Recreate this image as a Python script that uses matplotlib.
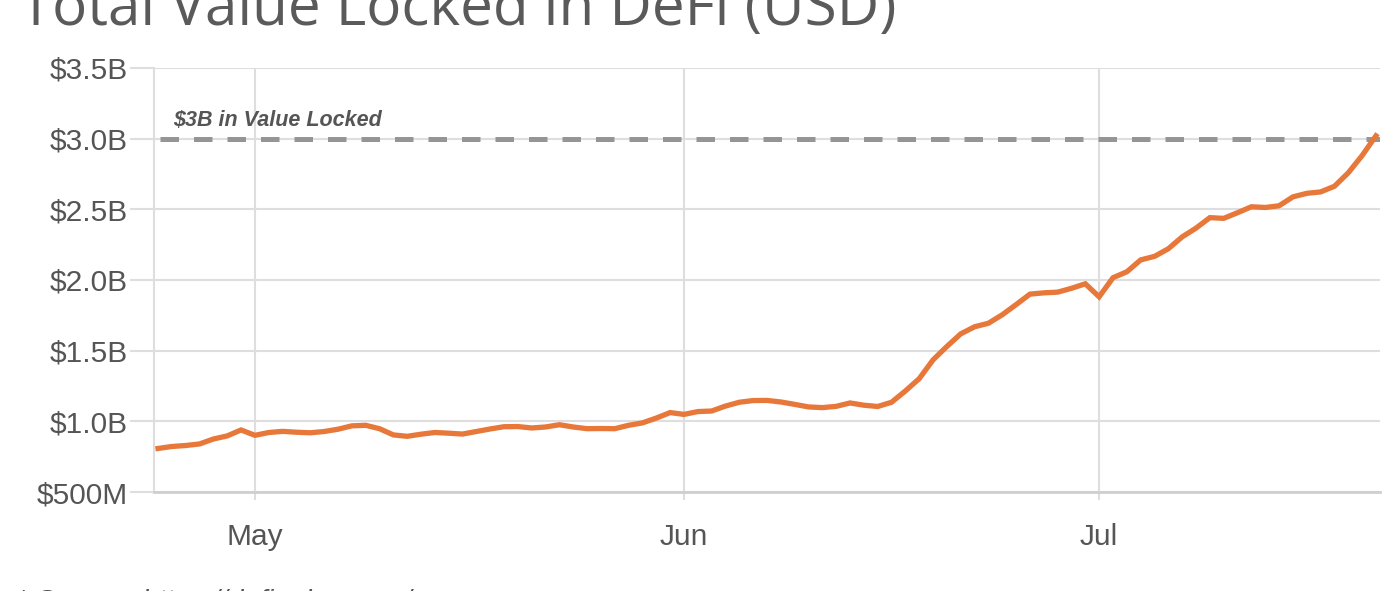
import datetime as dt
import matplotlib
matplotlib.use("Agg")
import matplotlib.pyplot as plt
import matplotlib.dates as mdates
from matplotlib.ticker import FixedLocator

# daily total value locked, billions of USD
start_date = dt.date(2020, 4, 24)
tvl_billions = [
    0.808, 0.822, 0.829, 0.840, 0.875, 0.897, 0.939, 0.901, 0.921, 0.929,
    0.923, 0.919, 0.928, 0.944, 0.968, 0.972, 0.948, 0.904, 0.894, 0.909,
    0.921, 0.916, 0.910, 0.928, 0.946, 0.962, 0.963, 0.953, 0.960, 0.976,
    0.960, 0.948, 0.949, 0.948, 0.972, 0.989, 1.023, 1.062, 1.049, 1.069,
    1.073, 1.108, 1.135, 1.147, 1.148, 1.137, 1.120, 1.102, 1.097, 1.106,
    1.130, 1.114, 1.105, 1.135, 1.215, 1.302, 1.435, 1.530, 1.619, 1.669,
    1.694, 1.754, 1.826, 1.900, 1.909, 1.914, 1.941, 1.973, 1.881, 2.016,
    2.058, 2.142, 2.167, 2.221, 2.305, 2.367, 2.441, 2.436, 2.476, 2.518,
    2.513, 2.525, 2.588, 2.613, 2.623, 2.663, 2.758, 2.880, 3.020,
]
dates = [start_date + dt.timedelta(days=i) for i in range(len(tvl_billions))]

y_ticks = [0.5, 1.0, 1.5, 2.0, 2.5, 3.0, 3.5]
y_labels = ["$500M", "$1.0B", "$1.5B", "$2.0B", "$2.5B", "$3.0B", "$3.5B"]
month_ticks = [dt.date(2020, 5, 1), dt.date(2020, 6, 1), dt.date(2020, 7, 1)]
month_labels = ["May", "Jun", "Jul"]
threshold = 3.0
threshold_label = "$3B in Value Locked"

grid_col = "#dedede"
text_col = "#555555"

fig = plt.figure(figsize=(14, 5.91), dpi=100)
ax = fig.add_axes([0.110, 0.1675, 0.8757, 0.7175])

ax.plot(dates, tvl_billions, color="#E8773A", linewidth=3.8,
        solid_joinstyle="miter", zorder=3)
ax.axhline(threshold, xmin=0.005, xmax=1.0, color="#959595", linewidth=3.6,
           dashes=(3.7, 3.0), zorder=2)
ax.text(dt.datetime(2020, 4, 25, 3), threshold + 0.055, threshold_label,
        fontsize=15.5, fontweight="bold", fontstyle="italic",
        family="Liberation Sans", color=text_col, va="bottom")

ax.set_xlim(dt.datetime(2020, 4, 23, 17), dt.datetime(2020, 7, 21, 7))
ax.set_ylim(0.5, 3.5)

ax.yaxis.set_major_locator(FixedLocator(y_ticks))
ax.set_yticklabels(y_labels)
ax.set_xticks([mdates.date2num(d) for d in month_ticks])
ax.set_xticklabels(month_labels)

ax.grid(True, color=grid_col, linewidth=1.5, zorder=0)
for s in ["top", "right"]:
    ax.spines[s].set_visible(False)
ax.spines["left"].set_color(grid_col)
ax.spines["left"].set_linewidth(1.5)
ax.spines["bottom"].set_color("#cfcfcf")
ax.spines["bottom"].set_linewidth(2)

ax.tick_params(axis="y", length=17, width=1.5, color=grid_col, pad=2,
               labelsize=21.5, labelcolor=text_col)
ax.tick_params(axis="x", length=6, width=1.5, color=grid_col, pad=16,
               labelsize=21.5, labelcolor=text_col)
for lab in ax.get_xticklabels() + ax.get_yticklabels():
    lab.set_family("Liberation Sans")

fig.text(0.014, 0.958, "Total Value Locked in DeFi (USD)", fontsize=42,
         family="Open Sans", color="#5a5a5a", va="baseline")
fig.text(0.012, -0.03, "* Source: https://defipulse.com/", fontsize=20.5,
         family="Liberation Sans", fontstyle="italic", color=text_col,
         va="baseline")

fig.savefig("out.png", dpi=100)
